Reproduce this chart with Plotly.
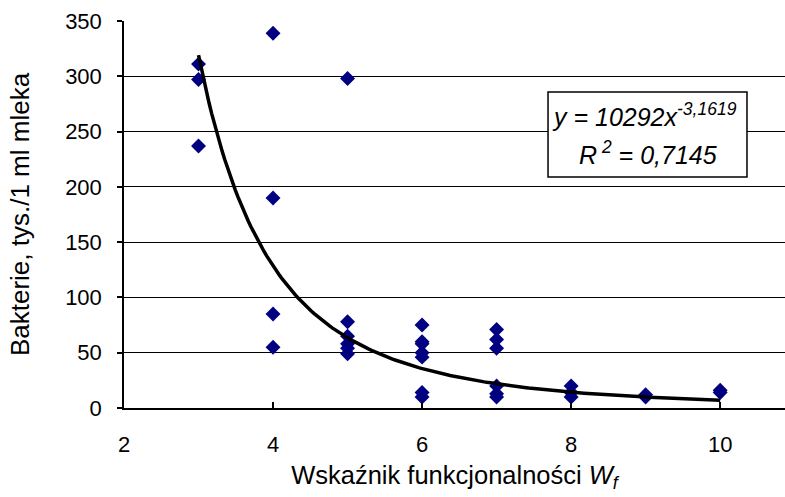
import numpy as np
import plotly.graph_objects as go

# Data
wf_values = [3, 3, 3,
             4, 4, 4, 4,
             5, 5, 5, 5, 5, 5,
             6, 6, 6, 6, 6, 6, 6,
             7, 7, 7, 7, 7, 7,
             8, 8, 8,
             9, 9,
             10, 10]
bacteria = [311, 297, 237,
            339, 190, 85, 55,
            298, 78, 65, 58, 54, 49,
            75, 60, 58, 50, 46, 14, 10,
            71, 62, 54, 20, 13, 10,
            20, 14, 10,
            12, 10,
            16, 14]

fit_a = 10292
fit_b = -3.1619
fit_r2 = "0,7145"

x_ticks = [2, 4, 6, 8, 10]
y_ticks = [0, 50, 100, 150, 200, 250, 300, 350]

xc = np.linspace(3, 10, 200)
yc = fit_a * xc ** fit_b

fig = go.Figure()
fig.add_trace(go.Scatter(
    x=wf_values, y=bacteria, mode="markers",
    marker=dict(symbol="diamond", size=11.5, color="#000080", line=dict(width=0)),
    showlegend=False, cliponaxis=False))
fig.add_trace(go.Scatter(
    x=xc, y=yc, mode="lines",
    line=dict(color="black", width=3.5),
    showlegend=False))

font_main = "Liberation Sans, Arial, sans-serif"

fig.update_layout(
    width=785, height=497,
    margin=dict(l=124, r=0, t=21, b=89),
    paper_bgcolor="white", plot_bgcolor="white",
    font=dict(family=font_main, size=22, color="black"),
    xaxis=dict(range=[2, 10.87], tickvals=x_ticks, ticktext=[str(v) for v in x_ticks],
               showgrid=False, zeroline=False, showline=True, linecolor="black", linewidth=1.5,
               ticks="inside", ticklen=6, tickcolor="black", tickwidth=1.5,
               tickfont=dict(size=22, family=font_main), ticklabelstandoff=16,
               title=dict(text="Wskaźnik funkcjonalności <i>W</i><sub><i>f</i></sub>",
                          font=dict(size=25.5, family=font_main), standoff=10)),
    yaxis=dict(range=[0, 350], tickvals=y_ticks,
               showgrid=True, gridcolor="black", gridwidth=1,
               zeroline=False, showline=True, linecolor="black", linewidth=1.5,
               ticks="outside", ticklen=5, tickcolor="black", tickwidth=1.5,
               tickfont=dict(size=22, family=font_main), ticklabelstandoff=11,
               title=dict(text="Bakterie, tys./1 ml mleka",
                          font=dict(size=26, family=font_main), standoff=28)),
)

fig.add_shape(type="rect", xref="x", yref="y", x0=7.69, x1=10.36, y0=209, y1=285.7,
              line=dict(color="black", width=1.5), fillcolor="white", layer="above")
fig.add_annotation(x=8.99, y=265, xref="x", yref="y", showarrow=False,
                   text="<i>y = 10292x<sup>-3,1619</sup></i>",
                   font=dict(size=25, family=font_main))
fig.add_annotation(x=9.03, y=231, xref="x", yref="y", showarrow=False,
                   text="<i>R<sup> 2</sup> = " + fit_r2 + "</i>",
                   font=dict(size=25, family=font_main))

fig.write_html("out.html")
